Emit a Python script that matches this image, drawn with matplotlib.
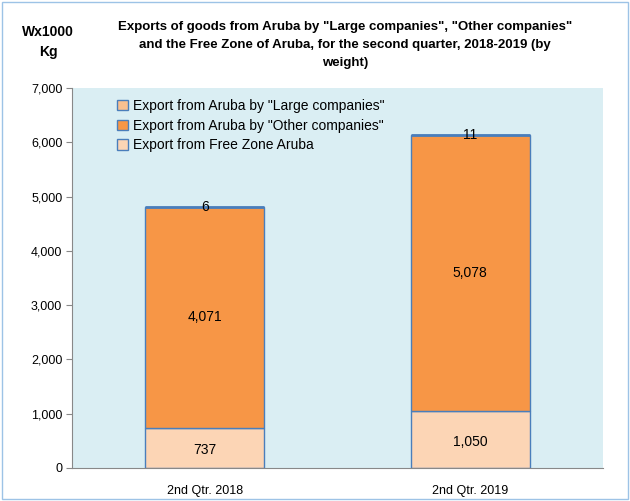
import matplotlib
matplotlib.use('Agg')
import matplotlib.pyplot as plt
from matplotlib.patches import Rectangle, Patch
import numpy as np

plt.rcParams['font.family'] = ['Liberation Sans', 'DejaVu Sans']

quarters = ["2nd Qtr. 2018", "2nd Qtr. 2019"]
free_zone = [737, 1050]
other_companies = [4071, 5078]
large_companies = [6, 11]
series_names = ['Export from Aruba by "Large companies"',
                'Export from Aruba by "Other companies"',
                'Export from Free Zone Aruba']

fig = plt.figure(figsize=(6.3, 5.01), dpi=100)
ax = fig.add_axes([72/630, 1-468/501, (603-72)/630, (468-88)/501])
ax.set_facecolor('#DAEEF3')

x = np.arange(len(quarters))
w = 0.45
edge = '#4A7EBB'
colors = ['#FAC090', '#F79646', '#FCD5B5']
ax.bar(x, free_zone, w, color=colors[2], edgecolor=edge, linewidth=1)
ax.bar(x, other_companies, w, bottom=free_zone, color=colors[1],
       edgecolor=edge, linewidth=1)
bottom3 = np.array(free_zone) + np.array(other_companies)
ax.bar(x, large_companies, w, bottom=bottom3, color=colors[0],
       edgecolor=edge, linewidth=2)

for i in range(len(quarters)):
    ax.text(x[i], free_zone[i]/2 - 40, f"{free_zone[i]:,}", ha='center', va='center', fontsize=10)
    ax.text(x[i], free_zone[i] + other_companies[i]/2, f"{other_companies[i]:,}",
            ha='center', va='center', fontsize=10)
    ax.text(x[i], bottom3[i] + large_companies[i], f"{large_companies[i]:,}",
            ha='center', va='center', fontsize=10)

ax.set_xlim(-0.5, 1.5)
ax.set_ylim(0, 7000)
ax.set_yticks(range(0, 7001, 1000))
ax.yaxis.set_major_formatter(matplotlib.ticker.FuncFormatter(lambda v, p: f"{int(v):,}"))
ax.set_xticks(x)
ax.set_xticklabels(quarters)
ax.tick_params(axis='x', length=0, pad=12, labelsize=9)
ax.tick_params(axis='y', length=4, color='#888888', labelsize=9, pad=3)
for s in ['top', 'right']:
    ax.spines[s].set_visible(False)
for s in ['left', 'bottom']:
    ax.spines[s].set_color('#888888')

handles = [Patch(facecolor=c, edgecolor=edge, linewidth=1) for c in colors]
ax.legend(handles, series_names, loc='upper left', bbox_to_anchor=(0.075, 0.985),
          frameon=False, fontsize=10, handlelength=0.75, handleheight=0.75,
          handletextpad=0.35, labelspacing=0.4, borderaxespad=0)

fig.text(345/630, 1-45/501, 'Exports of goods from Aruba by "Large companies", "Other companies"\n'
         'and the Free Zone of Aruba, for the second quarter, 2018-2019 (by\nweight)',
         ha='center', va='center', fontsize=9.5, fontweight='bold', linespacing=1.7)
fig.text(48/630, 1-42/501, 'Wx1000\nKg', ha='center', va='center', fontsize=10,
         fontweight='bold', linespacing=1.5)

fig.patches.append(Rectangle((2/630, 2/501), 1-4/630, 1-4/501, transform=fig.transFigure,
                             fill=False, edgecolor='#9DC3E6', linewidth=1))

fig.savefig('out.png', dpi=100)
